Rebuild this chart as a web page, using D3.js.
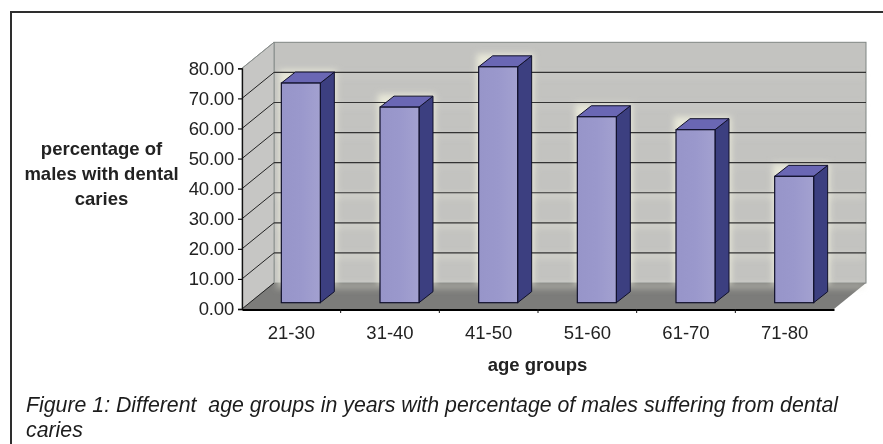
<!DOCTYPE html>
<html>
<head>
<meta charset="utf-8">
<script src="https://cdn.jsdelivr.net/npm/d3@7/dist/d3.min.js"></script>
<style>
html,body{margin:0;padding:0;background:#fff}
svg{display:block}
text{font-family:"Liberation Sans",Arial,sans-serif}
</style>
</head>
<body>
<svg id="chart" width="883" height="444"></svg>
<script>
// Chart content
const ageGroups = ["21-30","31-40","41-50","51-60","61-70","71-80"];
const cariesPercent = [73, 65, 78.4, 61.8, 57.5, 42];
const yTicks = [0,10,20,30,40,50,60,70,80];
const yTitleLines = ["percentage of","males with dental","caries"];
const xTitle = "age groups";
const captionLines = ["Figure 1: Different  age groups in years with percentage of males suffering from dental","caries"];

const svg = d3.select("#chart");

// Oblique projection: the front plane is drawn through the scales, depth shifts up and right
const x = d3.scaleBand().domain(ageGroups).range([242, 834]);
const y = d3.scaleLinear().domain([0, 80]).range([309, 68.3]);
const wallShift = {dx: 32, dy: -26};
const barOffset = {dx: 9.5, dy: -6.3};
const barDepth = {dx: 14, dy: -11};
const barWidth = 39;

const defs = svg.append("defs");
defs.append("filter").attr("id","halo").attr("x","-30%").attr("y","-30%").attr("width","160%").attr("height","160%")
  .append("feGaussianBlur").attr("stdDeviation",3);
const shade = defs.append("linearGradient").attr("id","barFace");
shade.append("stop").attr("offset","0").attr("stop-color","#9795c9");
shade.append("stop").attr("offset","0.5").attr("stop-color","#9a98cc");
shade.append("stop").attr("offset","1").attr("stop-color","#a3a1d0");

const poly = pts => pts.map(p => p.join(",")).join(" ");

// Frame rule along the top and left edges
svg.append("path").attr("d","M11,444V12H883")
  .attr("fill","none").attr("stroke","#2e2e2e").attr("stroke-width",2);

const [x0, x1] = x.range();
const yBase = y(0), yTop = y(80);
const bx0 = x0 + wallShift.dx, bx1 = x1 + wallShift.dx;
const by = v => y(v) + wallShift.dy;

// Back wall, side wall and floor
svg.append("rect").attr("x",bx0).attr("y",by(80)).attr("width",bx1-bx0).attr("height",by(0)-by(80))
  .attr("fill","#c3c3c0").attr("stroke","#7f8583").attr("stroke-width",1);
svg.append("polygon")
  .attr("points",poly([[x0,yTop],[bx0,by(80)],[bx0,by(0)],[x0,yBase]]))
  .attr("fill","#c6c6c4").attr("stroke","#7f8583").attr("stroke-width",0.8);
svg.append("polygon")
  .attr("points",poly([[x0,yBase],[bx0,by(0)],[bx1,by(0)],[x1,yBase]]))
  .attr("fill","#7c7c7a");

// Pale glow along the gridlines and bars on the walls
const glow = svg.append("g").attr("filter","url(#halo)");
yTicks.slice(0,-1).forEach(t => {
  glow.append("line").attr("x1",bx0+2).attr("x2",bx1-2).attr("y1",by(t)+3).attr("y2",by(t)+3)
    .attr("stroke","#e4e4d6").attr("stroke-width",4).attr("opacity",t < 40 ? 0.6 : 0.25);
});
ageGroups.forEach((g,i) => {
  const left = x(g) + x.bandwidth()/2 + barOffset.dx - barWidth/2;
  glow.append("rect").attr("x",left-2).attr("y",y(cariesPercent[i])+barOffset.dy+barDepth.dy-2)
    .attr("width",barWidth+barDepth.dx+4).attr("height",Math.max(0,by(0)-(y(cariesPercent[i])+barOffset.dy+barDepth.dy)+2))
    .attr("fill","#e8e8d8");
});

// Gridlines: along the side wall, then across the back wall
yTicks.slice(1,-1).forEach(t => {
  svg.append("line").attr("x1",x0).attr("y1",y(t)).attr("x2",bx0).attr("y2",by(t))
    .attr("stroke","#222").attr("stroke-width",1);
  svg.append("line").attr("x1",bx0).attr("y1",by(t)).attr("x2",bx1).attr("y2",by(t))
    .attr("stroke","#333").attr("stroke-width",1.2);
});
svg.append("line").attr("x1",x0).attr("y1",yTop).attr("x2",bx0).attr("y2",by(80))
  .attr("stroke","#8a8f8d").attr("stroke-width",1);
svg.append("line").attr("x1",x0).attr("y1",yBase).attr("x2",bx0).attr("y2",by(0))
  .attr("stroke","#222").attr("stroke-width",1);

// Cuboid bars
const bars = svg.append("g").selectAll("g").data(ageGroups).join("g");
bars.each(function(g,i){
  const v = cariesPercent[i];
  const l = x(g) + x.bandwidth()/2 + barOffset.dx - barWidth/2, r = l + barWidth;
  const t = y(v) + barOffset.dy, b = y(0) + barOffset.dy;
  const d = barDepth;
  const s = d3.select(this);
  s.append("polygon").attr("points",poly([[r,t],[r+d.dx,t+d.dy],[r+d.dx,b+d.dy],[r,b]]))
    .attr("fill","#3c3f80").attr("stroke","#10102a").attr("stroke-width",1);
  s.append("polygon").attr("points",poly([[l,t],[l+d.dx,t+d.dy],[r+d.dx,t+d.dy],[r,t]]))
    .attr("fill","#6a67b4").attr("stroke","#10102a").attr("stroke-width",1);
  s.append("rect").attr("x",l).attr("y",t).attr("width",barWidth).attr("height",b-t)
    .attr("fill","url(#barFace)").attr("stroke","#10102a").attr("stroke-width",1.2);
});

// Axes on the front plane
const yAxis = d3.axisLeft(y).tickValues(yTicks).tickFormat(d3.format(".2f")).tickSize(4).tickPadding(4);
const gy = svg.append("g").attr("transform",`translate(${x0},0)`).call(yAxis);
gy.select(".domain").attr("stroke","#111").attr("stroke-width",1.3);
gy.selectAll(".tick line").attr("stroke","#111").attr("stroke-width",1.2);
gy.selectAll(".tick text").attr("font-size",18.5).attr("fill","#222").style("font-family","'Liberation Sans'").attr("letter-spacing",-0.2);

const xAxis = d3.axisBottom(x).tickSize(0).tickPadding(16);
const gx = svg.append("g").attr("transform",`translate(0,${yBase+0.5})`).call(xAxis);
gx.select(".domain").attr("stroke","#000").attr("stroke-width",2.2);
gx.selectAll(".tick text").attr("font-size",18.5).attr("fill","#222").style("font-family","'Liberation Sans'");
svg.append("g").selectAll("line").data(x.domain().slice(1)).join("line")
  .attr("x1",d=>x(d)).attr("x2",d=>x(d)).attr("y1",yBase).attr("y2",yBase+4).attr("stroke","#111");

// Titles
svg.append("g").selectAll("text").data(yTitleLines).join("text")
  .attr("x",101.5).attr("y",(d,i)=>155+i*25)
  .attr("text-anchor","middle").attr("font-size",18.5).attr("font-weight","bold").attr("fill","#222").text(d=>d);
svg.append("text").attr("x",537.5).attr("y",371).attr("text-anchor","middle")
  .attr("font-size",18.5).attr("font-weight","bold").attr("fill","#222").text(xTitle);

// Caption
svg.append("g").selectAll("text").data(captionLines).join("text")
  .attr("x",26).attr("y",(d,i)=>412+i*25)
  .attr("font-size",21.3).attr("font-style","italic").attr("fill","#1c1c1c")
  .style("white-space","pre").text(d=>d);
</script>
</body>
</html>
